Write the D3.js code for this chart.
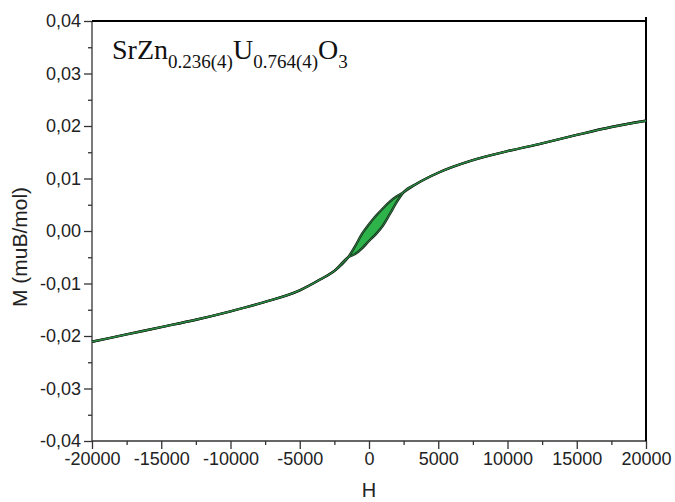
<!DOCTYPE html>
<html>
<head>
<meta charset="utf-8">
<script src="https://cdn.jsdelivr.net/npm/d3@7"></script>
<style>
  body { margin: 0; background: #fff; }
  svg { display: block; }
  .tick text { font-family: "Liberation Sans", Arial, sans-serif; font-size: 18px; fill: #222; }
  .axis path, .axis line { stroke: #333; stroke-width: 1.3; }
</style>
</head>
<body>
<div id="container"></div>
<script>
// field values (H) and magnetisation (M)
var h_values = [-20000, -17500, -15000, -12500, -10000, -7500, -5000, -3500, -2500, -1500,
                -1000, -500, 0, 500, 1000, 1500, 2000,
                2500, 3500, 5000, 7500, 10000, 12500, 15000, 17500, 20000];
// increasing-field branch
var m_up = [-0.0211, -0.0197, -0.0183, -0.0169, -0.0153, -0.0135, -0.0113, -0.0092, -0.0076, -0.0050,
            -0.0044, -0.0033, -0.0019, -0.0006, 0.0010, 0.0032, 0.0055,
            0.0074, 0.0091, 0.0111, 0.0135, 0.0152, 0.0167, 0.0183, 0.0198, 0.0210];
// decreasing-field branch
var m_down = [-0.0211, -0.0197, -0.0183, -0.0169, -0.0153, -0.0135, -0.0113, -0.0092, -0.0076, -0.0050,
              -0.0029, -0.0005, 0.0013, 0.0029, 0.0043, 0.0056, 0.0066,
              0.0074, 0.0091, 0.0111, 0.0135, 0.0152, 0.0167, 0.0183, 0.0198, 0.0210];
var x_ticks = [-20000, -15000, -10000, -5000, 0, 5000, 10000, 15000, 20000];
var y_ticks = [-0.04, -0.03, -0.02, -0.01, 0, 0.01, 0.02, 0.03, 0.04];

var width = 675,
    height = 502,
    margin = { left: 92, top: 21, right: 29, bottom: 61 },
    g_width = width - margin.left - margin.right,
    g_height = height - margin.top - margin.bottom;

var svg = d3.select('#container')
    .append('svg')
    .attr('width', width)
    .attr('height', height)
var g = svg.append('g')
    .attr('transform', 'translate(' + margin.left + ',' + margin.top + ')')

var scale_x = d3.scaleLinear().domain([-20000, 20000]).range([0, g_width])
var scale_y = d3.scaleLinear().domain([-0.04, 0.04]).range([g_height, 0])

// minor ticks
var x_minor = d3.range(-20000, 20001, 2500).filter(function (v) { return v % 5000 !== 0; });
var y_minor = d3.range(-8, 9).filter(function (v) { return v % 2 !== 0; }).map(function (v) { return v * 0.005; });

var x_axis = d3.axisBottom(scale_x).tickValues(x_ticks).tickSize(8).tickPadding(3)
    .tickFormat(function (d) { return String(d); })
var y_axis = d3.axisLeft(scale_y).tickValues(y_ticks).tickSize(8).tickPadding(3)
    .tickFormat(function (d) { return d.toFixed(2).replace('.', ','); })

g.append('g').attr('class', 'axis')
    .attr('transform', 'translate(0,' + g_height + ')')
    .call(x_axis)
    .call(function (s) { s.select('.domain').attr('d', 'M0,0H' + g_width); })
g.append('g').attr('class', 'axis')
    .attr('transform', 'translate(0,' + g_height + ')')
    .call(d3.axisBottom(scale_x).tickValues(x_minor).tickSize(4).tickFormat(''))
    .select('.domain').remove()
g.append('g').attr('class', 'axis')
    .call(y_axis)
    .call(function (s) { s.select('.domain').attr('d', 'M0,0V' + g_height); })
g.append('g').attr('class', 'axis')
    .call(d3.axisLeft(scale_y).tickValues(y_minor).tickSize(4).tickFormat(''))
    .select('.domain').remove()

// top and right frame
g.append('line').attr('x1', 0).attr('x2', g_width).attr('y1', 0).attr('y2', 0)
    .attr('stroke', '#000').attr('stroke-width', 2)
g.append('line').attr('x1', g_width).attr('x2', g_width).attr('y1', -4).attr('y2', g_height)
    .attr('stroke', '#000').attr('stroke-width', 2)

// hysteresis loop
var rows = h_values.map(function (h, i) { return { h: h, up: m_up[i], down: m_down[i] }; });
var area_generator = d3.area()
    .x(function (d) { return scale_x(d.h); })
    .y0(function (d) { return scale_y(d.up); })
    .y1(function (d) { return scale_y(d.down); })
    .curve(d3.curveMonotoneX)
g.append('path')
    .attr('d', area_generator(rows))
    .attr('fill', '#2db34a')
    .attr('stroke', 'none')

;['up', 'down'].forEach(function (k) {
    var line_generator = d3.line()
        .x(function (d) { return scale_x(d.h); })
        .y(function (d) { return scale_y(d[k]); })
        .curve(d3.curveMonotoneX)
    g.append('path').attr('d', line_generator(rows))
        .attr('fill', 'none').attr('stroke', '#1c2b1f').attr('stroke-width', 2.4)
});
;['up', 'down'].forEach(function (k) {
    var line_generator = d3.line()
        .x(function (d) { return scale_x(d.h); })
        .y(function (d) { return scale_y(d[k]); })
        .curve(d3.curveMonotoneX)
    g.append('path').attr('d', line_generator(rows))
        .attr('fill', 'none').attr('stroke', '#2a9a45').attr('stroke-width', 0.8)
});

// axis titles
svg.append('text')
    .text('H')
    .attr('x', margin.left + scale_x(0))
    .attr('y', 497)
    .attr('text-anchor', 'middle')
    .style('font-family', '"Liberation Sans", Arial, sans-serif')
    .style('font-size', '20px')
    .style('fill', '#222')
svg.append('text')
    .text('M (muB/mol)')
    .attr('transform', 'translate(27,247) rotate(-90)')
    .attr('text-anchor', 'middle')
    .style('font-family', '"Liberation Sans", Arial, sans-serif')
    .style('font-size', '21px')
    .style('fill', '#222')

// compound label
var title = svg.append('text')
    .attr('x', 112)
    .attr('y', 59)
    .style('font-family', '"Liberation Serif", "Times New Roman", serif')
    .style('font-size', '28px')
    .style('fill', '#111')
var parts = [['SrZn', 0], ['0.236(4)', 1], ['U', 0], ['0.764(4)', 1], ['O', 0], ['3', 1]];
var prev = 0;
parts.forEach(function (p) {
    var shift = p[1] ? 9 : 0;
    title.append('tspan')
        .text(p[0])
        .attr('dy', shift - prev)
        .style('font-size', p[1] ? '19px' : '28px')
    prev = shift;
});
</script>
</body>
</html>
